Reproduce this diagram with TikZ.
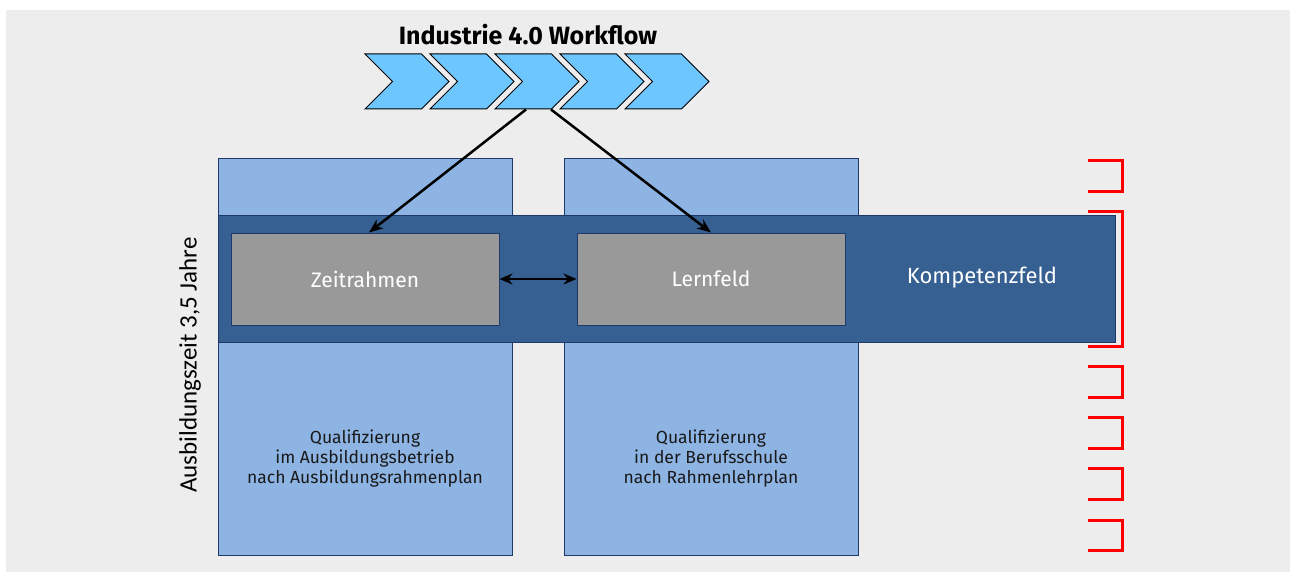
\documentclass[tikz,border=0pt]{standalone}
\usepackage{fontspec}
\setmainfont{Fira Sans}
\newfontfamily\sidefont{Carlito}
\usepackage{tikz}
\usetikzlibrary{shapes,arrows.meta,positioning,calc}

\definecolor{bggrey}{HTML}{EDEDED}
\definecolor{lightbox}{HTML}{8EB4E3}
\definecolor{bandblue}{HTML}{366092}
\definecolor{darkline}{HTML}{1F3A68}
\definecolor{greybox}{HTML}{999999}
\definecolor{chevblue}{HTML}{6EC6FF}

\tikzset{
  column/.style={draw=darkline, line width=1pt, fill=lightbox, minimum width=294pt, minimum height=396pt, inner sep=0pt},
  band/.style={draw=darkline, line width=1pt, fill=bandblue, minimum width=897pt, minimum height=126pt, inner sep=0pt},
  frame/.style={draw=darkline, line width=1pt, fill=greybox, minimum width=268pt, minimum height=92pt, inner sep=0pt, text=white, font=\fontsize{21}{25}\selectfont},
  chevron/.style={signal, signal to=east, signal from=west, signal pointer angle=90, draw=black, line width=1pt, fill=chevblue, minimum width=84pt, minimum height=55pt, inner sep=0pt},
  qualtext/.style={align=center, font=\fontsize{17.5}{20}\selectfont, text=black!90},
  flow/.style={-{Stealth[length=14pt,width=11pt]}, line width=2.5pt},
  bracket/.style={draw=red, line width=3pt}
}

\begin{document}
\begin{tikzpicture}[x=1pt, y=-1pt]
    \useasboundingbox (0,0) rectangle (1290,572);
    \fill[bggrey] (6,10) rectangle (1290,572);

    \node[font=\bfseries\fontsize{25}{30}\selectfont] (title) at (528,35) {Industrie 4.0 Workflow};

    \foreach \i in {1,...,5}
        \node[chevron] (c\i) at ({407+65*(\i-1)},81.5) {};

    \node[column] (betrieb) at (365,357) {};
    \node[column] (schule) at (711,357) {};

    \node[band] (band) at (666.5,279) {};
    \node[frame] (zeit) at (365,279) {Zeitrahmen};
    \node[frame] (lern) at (711,279) {Lernfeld};
    \node[text=white, font=\fontsize{22}{26}\selectfont] (kompetenz) at (982,278) {Kompetenzfeld};

    \node[qualtext] (qual1) at (365,459) {Qualifizierung\\im Ausbildungsbetrieb\\nach Ausbildungsrahmenplan};
    \node[qualtext] (qual2) at (711,459) {Qualifizierung\\in der Berufsschule\\nach Rahmenlehrplan};

    \node[rotate=90, font=\sidefont\fontsize{25}{30}\selectfont] (dauer) at (190,365) {Ausbildungszeit 3,5 Jahre};

    \draw[flow] ([xshift=-11pt]c3.south) -- ([xshift=4pt]zeit.north);
    \draw[flow] ([xshift=14pt]c3.south) -- (lern.north);
    \draw[{Stealth[length=13pt,width=11pt]}-{Stealth[length=13pt,width=11pt]}, line width=2.5pt] (zeit.east) -- (lern.west);

    % Kompetenzfelder
    \foreach \a/\b in {161/192, 212/346, 366/397, 417/448, 468/499, 520/550}
        \draw[bracket] (1088,\a) -| (1122,\b) -- (1088,\b);
\end{tikzpicture}
\end{document}
